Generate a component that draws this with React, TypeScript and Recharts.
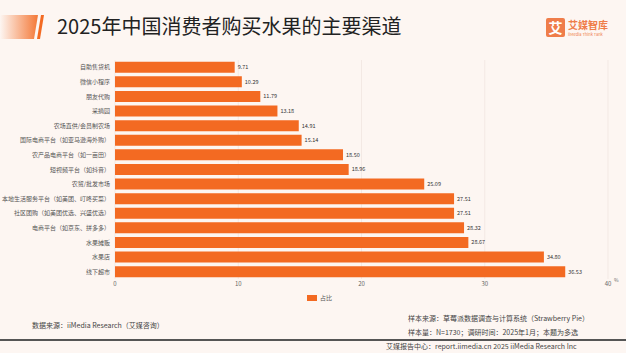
import { BarChart, Bar, XAxis, YAxis, CartesianGrid, LabelList } from 'recharts'

const channels = [
  '自助售货机',
  '微信小程序',
  '朋友代购',
  '采摘园',
  '农场直供/会员制农场',
  '国际电商平台（如亚马逊海外购）',
  '农产品电商平台（如一亩田）',
  '短视频平台（如抖音）',
  '农贸/批发市场',
  '本地生活服务平台（如美团、叮咚买菜）',
  '社区团购（如美团优选、兴盛优选）',
  '电商平台（如京东、拼多多）',
  '水果摊贩',
  '水果店',
  '线下超市',
]
const shares = [9.71, 10.29, 11.79, 13.18, 14.91, 15.14, 18.5, 18.96, 25.09, 27.51, 27.51, 28.32, 28.67, 34.8, 36.53]
const xTicks = [0, 10, 20, 30, 40]

const data = channels.map((name, i) => ({ name, share: shares[i] }))

const ORANGE = '#F36A22'
const FONT = '"Noto Sans CJK SC", "Noto Sans", sans-serif'

export default function App() {
  return (
    <div
      style={{
        position: 'relative',
        width: 626,
        height: 353,
        overflow: 'hidden',
        background: '#fdf6f2',
        fontFamily: FONT,
      }}
    >
      <style>{'body{margin:0}'}</style>

      {/* title decoration */}
      <svg width={50} height={30} style={{ position: 'absolute', left: 0, top: 13 }}>
        <defs>
          <linearGradient id="titleGrad" x1="0" y1="0" x2="1" y2="0">
            <stop offset="0%" stopColor={ORANGE} stopOpacity={0} />
            <stop offset="100%" stopColor={ORANGE} stopOpacity={0.9} />
          </linearGradient>
        </defs>
        <polygon points="0,2 38,2 34,26 0,26" fill="url(#titleGrad)" />
        <polygon points="41,2 44,2 40,26 37,26" fill={ORANGE} />
      </svg>
      <div
        style={{
          position: 'absolute',
          left: 57,
          top: 12,
          fontSize: 20,
          lineHeight: '28px',
          color: '#222',
          whiteSpace: 'nowrap',
        }}
      >
        2025年中国消费者购买水果的主要渠道
      </div>

      {/* logo */}
      <div
        style={{
          position: 'absolute',
          left: 546,
          top: 18,
          width: 19,
          height: 19,
          background: '#ef7d4a',
          borderRadius: 2,
          color: '#fff',
          fontSize: 14,
          lineHeight: '19px',
          textAlign: 'center',
          fontWeight: 700,
        }}
      >
        艾
      </div>
      <div
        style={{
          position: 'absolute',
          left: 568,
          top: 18,
          fontSize: 10,
          lineHeight: '13px',
          color: '#ef7d4a',
          fontWeight: 700,
          whiteSpace: 'nowrap',
        }}
      >
        艾媒智库
      </div>
      <div
        style={{
          position: 'absolute',
          left: 568,
          top: 32,
          fontSize: 4,
          lineHeight: '5px',
          color: '#ef7d4a',
          whiteSpace: 'nowrap',
        }}
      >
        iiMedia Think Tank
      </div>

      <div style={{ position: 'absolute', left: 0, top: 55 }}>
        <BarChart
          width={626}
          height={246}
          data={data}
          layout="vertical"
          margin={{ top: 5, right: 18, bottom: 2, left: 0 }}
          barCategoryGap="12%"
        >
          <CartesianGrid horizontal={false} stroke="#f3e9e4" />
          <XAxis
            type="number"
            domain={[0, 40]}
            ticks={xTicks}
            axisLine={false}
            tickLine={false}
            tickSize={0}
            tickMargin={3}
            height={20}
            tick={{ fontSize: 6, fill: '#666', fontFamily: FONT }}
          />
          <YAxis
            type="category"
            dataKey="name"
            width={115}
            interval={0}
            axisLine={false}
            tickLine={false}
            tickSize={0}
            tickMargin={5}
            tick={{ fontSize: 6, fill: '#555', fontFamily: FONT }}
          />
          <Bar dataKey="share" fill={ORANGE} isAnimationActive={false}>
            <LabelList
              dataKey="share"
              position="right"
              offset={3}
              formatter={(v: number) => v.toFixed(2)}
              style={{ fontSize: 5.5, fill: '#333', fontFamily: FONT }}
            />
          </Bar>
        </BarChart>
      </div>

      <div style={{ position: 'absolute', left: 614, top: 276, fontSize: 5, color: '#666' }}>%</div>

      {/* legend */}
      <div style={{ position: 'absolute', left: 307, top: 295, width: 10, height: 6, background: ORANGE }} />
      <div style={{ position: 'absolute', left: 320, top: 293, fontSize: 6, lineHeight: '10px', color: '#555' }}>
        占比
      </div>

      {/* footer */}
      <div style={{ position: 'absolute', left: 32, top: 320, fontSize: 7, lineHeight: '10px', color: '#444', whiteSpace: 'nowrap' }}>
        数据来源：iiMedia Research（艾媒咨询）
      </div>
      <div style={{ position: 'absolute', left: 408, top: 313, fontSize: 7, lineHeight: '10px', color: '#444', whiteSpace: 'nowrap' }}>
        样本来源：草莓派数据调查与计算系统（Strawberry Pie）
      </div>
      <div style={{ position: 'absolute', left: 408, top: 327, fontSize: 7, lineHeight: '10px', color: '#444', whiteSpace: 'nowrap' }}>
        样本量：N=1730；调研时间：2025年1月；本题为多选
      </div>
      <div style={{ position: 'absolute', left: 0, top: 339, width: 626, height: 1.5, background: '#555' }} />
      <div style={{ position: 'absolute', left: 386, top: 341, fontSize: 7, lineHeight: '10px', color: '#444', whiteSpace: 'nowrap' }}>
        艾媒报告中心：report.iimedia.cn 2025 iiMedia Research Inc
      </div>
    </div>
  )
}
